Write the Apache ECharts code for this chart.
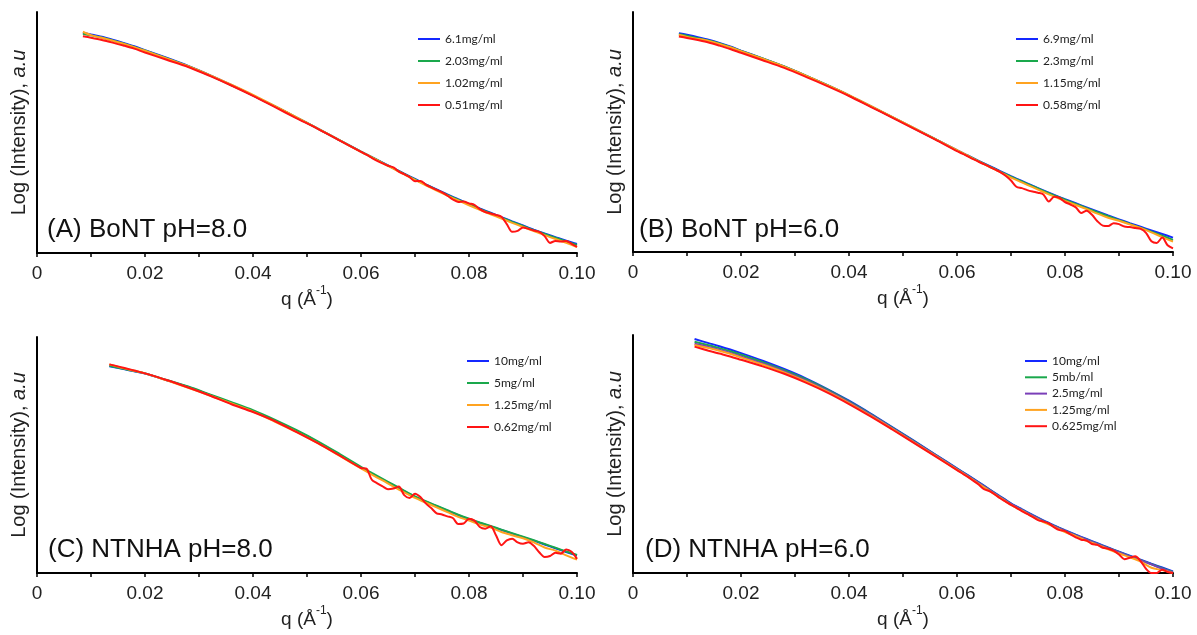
<!DOCTYPE html>
<html><head><meta charset="utf-8">
<script src="https://cdn.jsdelivr.net/npm/echarts@6/dist/echarts.min.js"></script>
<style>html,body{margin:0;padding:0;background:#fff}#c{width:1197px;height:635px}</style>
</head><body><div id="c"></div>
<script>
// ---------- tick labels ----------
const xTickLabels = ['0', '0.02', '0.04', '0.06', '0.08', '0.10'];

// ---------- q grids ----------
const qLowAB = [0.0085,0.010,0.012,0.014,0.016,0.018,0.020,0.024,0.028,0.032,0.036,0.040,0.044,0.048,0.052,0.056,0.060];
const qLowC  = [0.0134,0.016,0.018,0.020,0.024,0.028,0.032,0.036,0.040,0.044,0.048,0.052,0.056,0.060];
const qLowD  = [0.0114,0.014,0.016,0.018,0.020,0.024,0.028,0.032,0.036,0.040,0.044,0.048,0.052,0.056,0.060];
const qMid   = [0.062,0.064,0.066,0.068,0.070,0.072,0.074,0.076,0.078,0.080,0.082,0.084,0.086,0.088,0.090,0.092,0.094,0.096,0.098,0.100];
const qFine  = [0.061,0.062,0.063,0.064,0.065,0.066,0.067,0.068,0.069,0.070,0.071,0.072,0.073,0.074,0.075,0.076,0.077,0.078,0.079,0.080,
                0.081,0.082,0.083,0.084,0.085,0.086,0.087,0.088,0.089,0.090,0.091,0.092,0.093,0.094,0.095,0.096,0.097,0.098,0.099,0.100];

// ---------- (A) BoNT pH=8.0 ----------
const namesA = ['6.1mg/ml', '2.03mg/ml', '1.02mg/ml', '0.51mg/ml'];
const aBlue   = [9.14,9.07,8.97,8.85,8.72,8.58,8.42,8.10,7.76,7.38,6.97,6.54,6.09,5.63,5.16,4.68,4.21,
                 3.98,3.75,3.52,3.29,3.07,2.85,2.64,2.43,2.23,2.04,1.85,1.67,1.49,1.31,1.14,0.97,0.81,0.66,0.51,0.38];
const aGreen  = [9.10,9.03,8.94,8.82,8.69,8.55,8.40,8.08,7.75,7.37,6.96,6.54,6.09,5.63,5.16,4.68,4.21,
                 3.98,3.74,3.51,3.28,3.05,2.84,2.62,2.41,2.21,2.02,1.83,1.65,1.47,1.29,1.12,0.95,0.79,0.63,0.48,0.33];
const aOrange = [9.18,9.04,8.93,8.81,8.68,8.54,8.39,8.07,7.75,7.38,6.98,6.56,6.10,5.64,5.16,4.68,4.20,
                 3.97,3.73,3.50,3.26,3.03,2.81,2.59,2.38,2.18,1.98,1.79,1.61,1.43,1.25,1.08,0.91,0.74,0.58,0.42,0.25];
const aRed    = [8.99,8.93,8.84,8.73,8.61,8.48,8.32,8.02,7.72,7.35,6.95,6.52,6.06,5.60,5.15,4.67,4.20,
                 4.08,3.95,3.82,3.72,3.62,3.55,3.38,3.27,3.15,2.98,2.99,2.84,2.72,2.62,2.52,2.38,2.22,2.12,2.14,2.06,
                 2.00,1.82,1.70,1.64,1.58,1.50,1.20,0.88,0.92,1.06,1.00,0.93,0.88,0.70,0.42,0.50,0.48,0.50,0.38,0.25];

// ---------- (B) BoNT pH=6.0 ----------
const namesB = ['6.9mg/ml', '2.3mg/ml', '1.15mg/ml', '0.58mg/ml'];
const bBlue   = [9.12,9.05,8.95,8.84,8.71,8.56,8.39,8.07,7.73,7.35,6.95,6.53,6.08,5.62,5.16,4.70,4.24,
                 4.02,3.80,3.59,3.37,3.16,2.96,2.76,2.57,2.38,2.20,2.03,1.86,1.69,1.52,1.36,1.20,1.05,0.90,0.75,0.60];
const bGreen  = [9.07,9.01,8.91,8.81,8.69,8.54,8.38,8.06,7.73,7.35,6.95,6.53,6.08,5.62,5.16,4.70,4.23,
                 4.01,3.79,3.57,3.35,3.14,2.94,2.74,2.55,2.36,2.18,2.00,1.83,1.66,1.49,1.33,1.17,1.01,0.85,0.68,0.50];
const bOrange = [9.05,8.96,8.88,8.79,8.67,8.53,8.37,8.05,7.72,7.35,6.95,6.54,6.09,5.63,5.17,4.70,4.24,
                 4.01,3.78,3.55,3.33,3.10,2.90,2.70,2.50,2.31,2.13,1.96,1.79,1.60,1.43,1.30,1.15,1.00,0.82,0.62,0.43];
const bRed    = [8.98,8.92,8.83,8.73,8.60,8.46,8.30,7.99,7.67,7.30,6.91,6.50,6.05,5.60,5.14,4.68,4.20,
                 4.10,3.98,3.87,3.76,3.66,3.55,3.44,3.33,3.18,2.98,2.72,2.66,2.58,2.52,2.47,2.40,2.10,2.30,2.25,2.08,
                 1.98,1.86,1.63,1.72,1.55,1.28,1.10,1.08,1.20,1.16,1.06,1.04,1.00,0.96,0.80,0.45,0.38,0.60,0.28,0.15];

// ---------- (C) NTNHA pH=8.0 ----------
const namesC = ['10mg/ml', '5mg/ml', '1.25mg/ml', '0.62mg/ml'];
const cBlue   = [8.76,8.64,8.55,8.45,8.17,7.88,7.55,7.21,6.87,6.46,6.03,5.55,5.02,4.47,
                 4.21,3.96,3.71,3.46,3.22,3.02,2.83,2.64,2.45,2.28,2.12,1.97,1.82,1.67,1.52,1.37,1.21,1.05,0.89,0.74];
const cGreen  = [8.78,8.65,8.56,8.46,8.18,7.90,7.57,7.24,6.90,6.50,6.06,5.58,5.05,4.50,
                 4.24,3.99,3.74,3.49,3.25,3.04,2.85,2.66,2.47,2.30,2.14,1.99,1.84,1.69,1.54,1.39,1.23,1.07,0.91,0.76];
const cOrange = [8.84,8.68,8.57,8.46,8.16,7.85,7.52,7.18,6.84,6.42,5.98,5.50,4.97,4.43,
                 4.17,3.92,3.66,3.42,3.18,2.98,2.78,2.58,2.38,2.22,2.05,1.93,1.74,1.60,1.47,1.30,1.08,0.95,0.75,0.57];
const cRed    = [8.84,8.70,8.58,8.46,8.18,7.86,7.52,7.15,6.82,6.44,5.98,5.50,4.98,4.45,
                 4.42,3.95,3.80,3.67,3.55,3.58,3.66,3.30,3.18,3.36,3.22,2.95,2.75,2.53,2.48,2.40,2.33,2.08,2.10,2.30,
                 2.22,1.95,1.88,1.98,1.60,1.18,1.38,1.45,1.30,1.24,1.30,1.15,0.88,0.68,0.72,0.86,0.82,1.00,0.90,0.60];

// ---------- (D) NTNHA pH=6.0 ----------
const namesD = ['10mg/ml', '5mb/ml', '2.5mg/ml', '1.25mg/ml', '0.625mg/ml'];
const dBlue   = [9.83,9.66,9.53,9.39,9.24,8.92,8.57,8.18,7.73,7.24,6.70,6.13,5.56,4.98,4.40,
                 4.11,3.82,3.52,3.22,2.93,2.68,2.44,2.21,2.00,1.80,1.61,1.43,1.25,1.07,0.90,0.73,0.56,0.39,0.23,0.07];
const dGreen  = [9.72,9.57,9.45,9.32,9.17,8.86,8.52,8.14,7.70,7.21,6.68,6.11,5.54,4.96,4.38,
                 4.09,3.80,3.50,3.20,2.91,2.66,2.42,2.19,1.98,1.78,1.59,1.41,1.23,1.05,0.88,0.71,0.54,0.37,0.20,0.04];
const dPurple = [9.63,9.50,9.38,9.25,9.10,8.80,8.47,8.09,7.66,7.18,6.65,6.09,5.52,4.95,4.37,
                 4.08,3.79,3.49,3.19,2.90,2.65,2.41,2.18,1.97,1.77,1.58,1.40,1.22,1.04,0.87,0.70,0.53,0.36,0.18,0.02];
const dOrange = [9.58,9.45,9.34,9.21,9.06,8.76,8.43,8.05,7.62,7.14,6.61,6.06,5.49,4.92,4.34,
                 4.05,3.75,3.45,3.16,2.86,2.62,2.37,2.14,1.94,1.72,1.55,1.35,1.18,1.00,0.82,0.66,0.48,0.22,0.12,0.00];
const dRed    = [9.51,9.34,9.22,9.10,8.96,8.68,8.37,8.00,7.58,7.10,6.58,6.03,5.47,4.90,4.32,
                 4.18,4.04,3.88,3.72,3.52,3.44,3.30,3.14,3.00,2.86,2.74,2.60,2.48,2.36,2.22,2.16,2.08,1.92,1.80,1.76,
                 1.62,1.50,1.40,1.36,1.22,1.18,1.06,1.02,0.94,0.78,0.58,0.64,0.70,0.50,0.18,0.00,0.00,0.14,0.04,0.00];

const panelTitles = ['(A) BoNT pH=8.0', '(B) BoNT pH=6.0', '(C) NTNHA pH=8.0', '(D) NTNHA pH=6.0'];

const COL = { blue: '#1428ff', green: '#1aa84c', purple: '#7a3fb8', orange: '#ffa320', red: '#ff1414' };

function pairs(q, v) { return q.map((x, i) => [x, v[i]]); }
const qAB = qLowAB.concat(qMid), qABr = qLowAB.concat(qFine);
const qC = qLowC.concat(qMid), qCr = qLowC.concat(qFine);
const qD = qLowD.concat(qMid), qDr = qLowD.concat(qFine);

const panels = [
  { grid: { left: 37, right: 620, top: 12, bottom: 382 }, names: namesA,
    lines: [[qAB, aBlue, COL.blue], [qAB, aGreen, COL.green], [qAB, aOrange, COL.orange], [qABr, aRed, COL.red]],
    legend: { left: 418, top: 32, gap: 8 }, title: [47, 230] },
  { grid: { left: 633, right: 24, top: 12, bottom: 383 }, names: namesB,
    lines: [[qAB, bBlue, COL.blue], [qAB, bGreen, COL.green], [qAB, bOrange, COL.orange], [qABr, bRed, COL.red]],
    legend: { left: 1016, top: 32, gap: 8 }, title: [639, 230] },
  { grid: { left: 37, right: 620, top: 337, bottom: 62 }, names: namesC,
    lines: [[qC, cBlue, COL.blue], [qC, cGreen, COL.green], [qC, cOrange, COL.orange], [qCr, cRed, COL.red]],
    legend: { left: 467, top: 354, gap: 8 }, title: [48, 550] },
  { grid: { left: 633, right: 24, top: 335, bottom: 62 }, names: namesD,
    lines: [[qD, dBlue, COL.blue], [qD, dGreen, COL.green], [qD, dPurple, COL.purple], [qD, dOrange, COL.orange], [qDr, dRed, COL.red]],
    legend: { left: 1025, top: 354, gap: 2.3 }, title: [645, 550] }
];

const FONT = '"Liberation Sans", Arial, sans-serif';
const option = {
  animation: false,
  backgroundColor: '#fff',
  grid: [], xAxis: [], yAxis: [], series: [], legend: [], graphic: []
};

panels.forEach((p, k) => {
  option.grid.push(p.grid);
  option.xAxis.push({
    gridIndex: k, type: 'value', min: 0, max: 0.1, interval: 0.01,
    splitLine: { show: false },
    axisLine: { lineStyle: { color: '#000', width: 2 } },
    axisTick: { show: true, length: 4, lineStyle: { color: '#000', width: 1.5 } },
    axisLabel: {
      fontSize: 19, fontFamily: FONT, color: '#222', margin: 11, showMinLabel: true, showMaxLabel: true,
      formatter: v => { const n = Math.round(v * 100); return n % 2 ? '' : xTickLabels[n / 2]; }
    },
    name: '{n|q (Å}{s|-1}{n|)}', nameLocation: 'middle', nameGap: 32,
    nameTextStyle: { rich: {
      n: { fontSize: 19, fontFamily: FONT, color: '#222', lineHeight: 24, verticalAlign: 'bottom' },
      s: { fontSize: 12, fontFamily: FONT, color: '#222', lineHeight: 24, verticalAlign: 'top', padding: [0, 0, 0, 0] }
    } }
  });
  option.yAxis.push({
    gridIndex: k, type: 'value', min: 0, max: 10,
    splitLine: { show: false },
    axisLine: { show: true, lineStyle: { color: '#000', width: 2 } },
    axisTick: { show: false }, axisLabel: { show: false },
    name: '{n|Log (Intensity), }{i|a.u}', nameLocation: 'middle', nameGap: 8,
    nameTextStyle: { rich: {
      n: { fontSize: 20, fontFamily: FONT, color: '#222' },
      i: { fontSize: 20, fontFamily: FONT, color: '#222', fontStyle: 'italic' }
    } }
  });
  p.lines.forEach((ln, j) => {
    option.series.push({
      type: 'line', name: p.names[j], xAxisIndex: k, yAxisIndex: k,
      data: pairs(ln[0], ln[1]), showSymbol: false, symbol: 'none', smooth: 0.3,
      lineStyle: { color: ln[2], width: 2 }, itemStyle: { color: ln[2] }, z: 2 + j
    });
  });
  option.legend.push({
    data: p.names.map(n => ({ name: n, icon: 'rect' })), orient: 'vertical',
    left: p.legend.left, top: p.legend.top, itemWidth: 22, itemHeight: 2, itemGap: p.legend.gap,
    padding: 0, selectedMode: false,
    textStyle: { fontFamily: 'Lato, "Open Sans", sans-serif', fontSize: 12, color: '#222', lineHeight: 14 }
  });
  option.graphic.push({
    type: 'text', x: p.title[0], y: p.title[1], silent: true,
    style: { text: panelTitles[k], font: '26px ' + FONT, fill: '#111', verticalAlign: 'middle', textVerticalAlign: 'middle' }
  });
});

const chart = echarts.init(document.getElementById('c'), null, { renderer: 'canvas' });
chart.setOption(option);
</script>
</body></html>
